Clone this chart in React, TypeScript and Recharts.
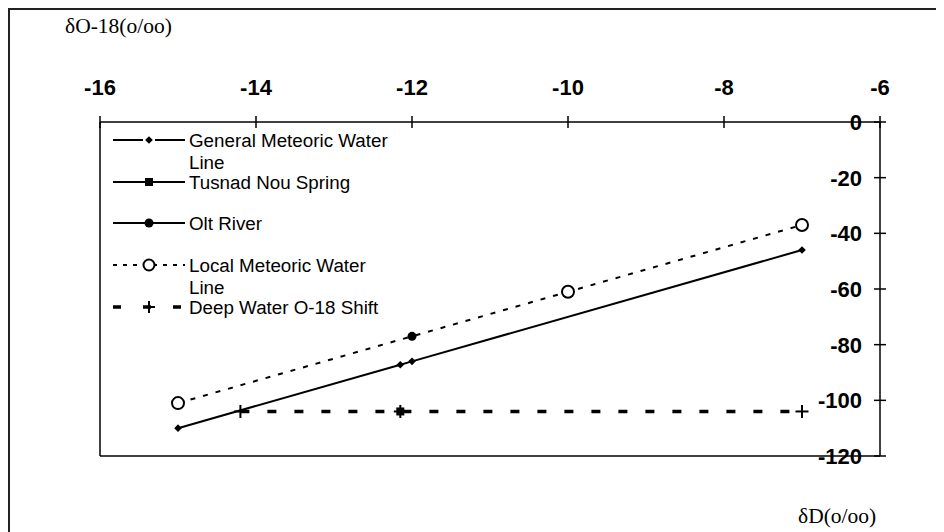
import React from 'react';
import { ComposedChart, Line, XAxis, YAxis, ReferenceLine } from 'recharts';

// δO-18 ticks (top axis) and δD ticks (right axis)
const xTicks = [-16, -14, -12, -10, -8, -6];
const yTicks = [0, -20, -40, -60, -80, -100, -120];

// Series
const gmwlX = [-15, -12.15, -12, -7];
const gmwlY = [-110, -87.2, -86, -46];
const tusnadX = [-12.15];
const tusnadY = [-104];
const oltX = [-12];
const oltY = [-77];
const lmwlX = [-15, -10, -7];
const lmwlY = [-101, -61, -37];
const deepX = [-14.2, -12.15, -7];
const deepY = [-104, -104, -104];

const zip = (xs: number[], ys: number[]) => xs.map((x, i) => ({ x, y: ys[i] }));
const gmwl = zip(gmwlX, gmwlY);
const tusnad = zip(tusnadX, tusnadY);
const olt = zip(oltX, oltY);
const lmwl = zip(lmwlX, lmwlY);
const deep = zip(deepX, deepY);

const W = 936;
const H = 524;
const sans = 'Liberation Sans, Arial, sans-serif';
const serif = 'Liberation Serif, Times New Roman, serif';

const Diamond = ({ cx, cy, r = 3.8 }: any) => (
  <polygon points={`${cx},${cy - r} ${cx + r},${cy} ${cx},${cy + r} ${cx - r},${cy}`} fill="#000" />
);
const Square = ({ cx, cy, s = 8 }: any) => (
  <rect x={cx - s / 2} y={cy - s / 2} width={s} height={s} fill="#000" />
);
const Dot = ({ cx, cy, r = 4.5 }: any) => <circle cx={cx} cy={cy} r={r} fill="#000" />;
const Open = ({ cx, cy, r = 6 }: any) => (
  <circle cx={cx} cy={cy} r={r} fill="#fff" stroke="#000" strokeWidth={2} />
);
const Plus = ({ cx, cy, a = 6.5 }: any) => (
  <g stroke="#000" strokeWidth={2}>
    <line x1={cx - a} y1={cy} x2={cx + a} y2={cy} />
    <line x1={cx} y1={cy - a} x2={cx} y2={cy + a} />
  </g>
);

const XTick = ({ x, y, payload }: any) => (
  <g>
    <line x1={x} y1={y - 6} x2={x} y2={y + 6} stroke="#000" strokeWidth={1.5} />
    <text x={x} y={y - 27} textAnchor="middle" fontFamily={sans} fontWeight="bold" fontSize={22} fill="#000">
      {payload.value}
    </text>
  </g>
);
const YTick = ({ x, y, payload }: any) => (
  <g>
    <line x1={x - 6} y1={y} x2={x + 6} y2={y} stroke="#000" strokeWidth={1.5} />
    <text x={x - 18} y={y + 8} textAnchor="end" fontFamily={sans} fontWeight="bold" fontSize={22} fill="#000">
      {payload.value}
    </text>
  </g>
);

const mk = (C: any) => (p: any) => <C key={`${p.index}-${p.cx}`} cx={p.cx} cy={p.cy} />;

const LegendOverlay = () => {
  const tx = 181;
  const fs = 18.8;
  const t = (y: number, s: string) => (
    <text x={tx} y={y + 6.5} fontFamily={sans} fontSize={fs} fill="#000">{s}</text>
  );
  return (
    <svg width={W} height={H} style={{ position: 'absolute', left: 0, top: 0, pointerEvents: 'none' }}>
      <line x1={0} y1={1} x2={W} y2={1} stroke="#222" strokeWidth={2} />
      <line x1={1} y1={0} x2={1} y2={H} stroke="#222" strokeWidth={2} />
      {/* GMWL */}
      <line x1={105} y1={132} x2={135} y2={132} stroke="#000" strokeWidth={2} />
      <line x1={147} y1={132} x2={177} y2={132} stroke="#000" strokeWidth={2} />
      <Diamond cx={141} cy={132} />
      {t(132, 'General Meteoric Water')}
      {t(154, 'Line')}
      {/* Tusnad */}
      <line x1={105} y1={174} x2={177} y2={174} stroke="#000" strokeWidth={2} />
      <Square cx={141} cy={174} />
      {t(174, 'Tusnad Nou Spring')}
      {/* Olt */}
      <line x1={105} y1={215} x2={177} y2={215} stroke="#000" strokeWidth={2} />
      <Dot cx={141} cy={215} />
      {t(215, 'Olt River')}
      {/* LMWL */}
      <line x1={105} y1={257} x2={177} y2={257} stroke="#000" strokeWidth={2} strokeDasharray="4 6" />
      <Open cx={141} cy={257} r={5.5} />
      {t(257, 'Local Meteoric Water')}
      {t(279, 'Line')}
      {/* Deep */}
      <line x1={105} y1={299} x2={177} y2={299} stroke="#000" strokeWidth={3.5} strokeDasharray="8 22" />
      <Plus cx={141} cy={299} a={6} />
      {t(299, 'Deep Water O-18 Shift')}
      {/* axis titles */}
      <text x={57} y={25} fontFamily={serif} fontSize={21.5} fill="#000">δO-18(o/oo)</text>
      <text x={790} y={515} fontFamily={serif} fontSize={21.5} fill="#000">δD(o/oo)</text>
    </svg>
  );
};

export default function App() {
  return (
    <div style={{ position: 'relative', width: W, height: H, background: '#fff' }}>
      <ComposedChart width={W} height={H} margin={{ top: 84, right: 34, bottom: 76, left: 92 }}>
        <XAxis
          xAxisId="x"
          type="number"
          dataKey="x"
          orientation="top"
          domain={[-16, -6]}
          ticks={xTicks}
          interval={0}
          height={30}
          tickSize={0}
          tickMargin={0}
          tick={<XTick />}
          axisLine={{ stroke: '#000', strokeWidth: 1.5 }}
          allowDataOverflow
        />
        <YAxis
          yAxisId="y"
          type="number"
          orientation="right"
          domain={[-120, 0]}
          ticks={yTicks}
          interval={0}
          width={30}
          tickSize={0}
          tickMargin={0}
          tick={<YTick />}
          axisLine={{ stroke: '#000', strokeWidth: 1.5 }}
          allowDataOverflow
        />
        <ReferenceLine xAxisId="x" yAxisId="y" x={-16} stroke="#000" strokeWidth={1.5} />
        <ReferenceLine xAxisId="x" yAxisId="y" y={-120} stroke="#000" strokeWidth={1.5} />
        <Line xAxisId="x" yAxisId="y" data={deep} dataKey="y" stroke="#000" strokeWidth={3.5}
          strokeDasharray="9 18" dot={mk(Plus)} activeDot={false} isAnimationActive={false} />
        <Line xAxisId="x" yAxisId="y" data={lmwl} dataKey="y" stroke="#000" strokeWidth={2}
          strokeDasharray="5 8" dot={mk(Open)} activeDot={false} isAnimationActive={false} />
        <Line xAxisId="x" yAxisId="y" data={gmwl} dataKey="y" stroke="#000" strokeWidth={2}
          dot={mk(Diamond)} activeDot={false} isAnimationActive={false} />
        <Line xAxisId="x" yAxisId="y" data={tusnad} dataKey="y" stroke="#000" strokeWidth={2}
          dot={mk(Square)} activeDot={false} isAnimationActive={false} />
        <Line xAxisId="x" yAxisId="y" data={olt} dataKey="y" stroke="#000" strokeWidth={2}
          dot={mk(Dot)} activeDot={false} isAnimationActive={false} />
      </ComposedChart>
      <LegendOverlay />
    </div>
  );
}
